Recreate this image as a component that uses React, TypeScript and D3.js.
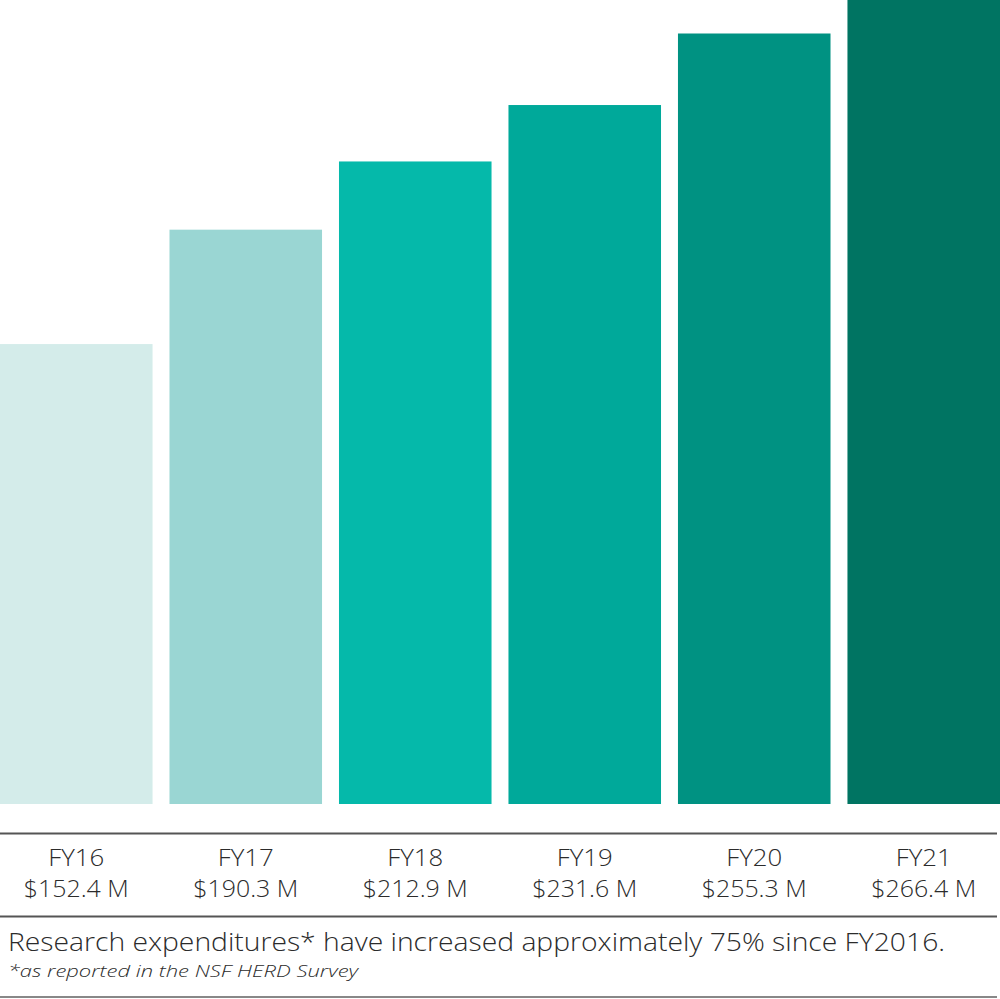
import React from "react";
import * as d3 from "d3";

const categories = ["FY16", "FY17", "FY18", "FY19", "FY20", "FY21"];
const values = [152.4, 190.3, 212.9, 231.6, 255.3, 266.4];
const valueLabels = ["$152.4 M", "$190.3 M", "$212.9 M", "$231.6 M", "$255.3 M", "$266.4 M"];
const barColors = ["#d4ecea", "#9ad6d3", "#05b9aa", "#00a99a", "#009282", "#007462"];
const caption = "Research expenditures* have increased approximately 75% since FY2016.";
const footnote = "*as reported in the NSF HERD Survey";

const W = 1000;
const H = 999;
const FONT = "'Open Sans', Lato, sans-serif";

export default function App() {
  const x = d3.scaleBand<string>().domain(categories).range([0, W]).paddingInner(0.1).paddingOuter(0);
  const y = d3.scaleLinear().domain([0, d3.max(values) as number]).range([804, 0]);

  return (
    <div style={{ position: "absolute", left: 0, top: 0 }}>
      <svg width={W} height={H} style={{ display: "block" }}>
        {categories.map((c, i) => (
          <rect
            key={c}
            x={x(c)}
            y={y(values[i])}
            width={x.bandwidth()}
            height={y(0) - y(values[i])}
            fill={barColors[i]}
          />
        ))}
        <line x1={0} x2={997} y1={833.5} y2={833.5} stroke="#555" strokeWidth={2} />
        <line x1={0} x2={997} y1={916.5} y2={916.5} stroke="#555" strokeWidth={2} />
        <line x1={0} x2={997} y1={997} y2={997} stroke="#888" strokeWidth={2} />
        {categories.map((c, i) => (
          <g key={c} transform={`translate(${(x(c) as number) + x.bandwidth() / 2},0)`} fill="#2b2b2b" fontFamily={FONT} fontWeight={300} fontSize={23} textAnchor="middle">
            <text y={866} textLength={56} lengthAdjust="spacingAndGlyphs">{c}</text>
            <text y={897} textLength={105} lengthAdjust="spacingAndGlyphs">{valueLabels[i]}</text>
          </g>
        ))}
        <text x={8} y={951} fill="#2b2b2b" fontFamily={FONT} fontWeight={300} fontSize={25} textLength={937} lengthAdjust="spacingAndGlyphs">{caption}</text>
        <text x={8} y={977} fill="#2b2b2b" fontFamily={FONT} fontWeight={300} fontSize={17} fontStyle="italic" textLength={350} lengthAdjust="spacingAndGlyphs">{footnote}</text>
      </svg>
    </div>
  );
}
